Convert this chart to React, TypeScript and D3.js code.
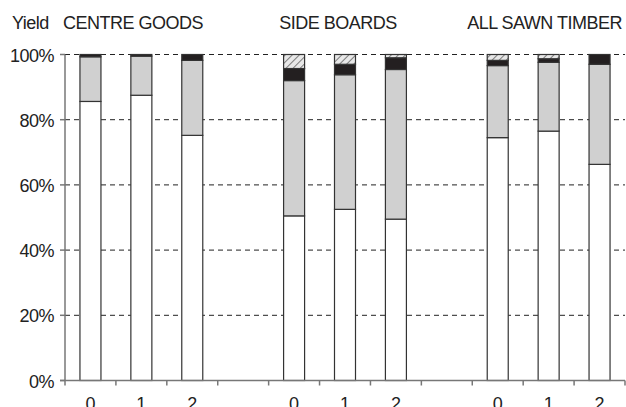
import * as d3 from "d3";

const groups = ["CENTRE GOODS", "SIDE BOARDS", "ALL SAWN TIMBER"];
const cats = ["0", "1", "2"];
// stacked segments per bar: white, grey, black, hatched
const white = [85.6, 87.5, 75.2, 50.5, 52.5, 49.5, 74.5, 76.5, 66.3];
const grey = [13.7, 12.0, 23.0, 41.5, 41.3, 45.9, 22.1, 21.1, 30.7];
const black = [0.7, 0.5, 1.8, 3.7, 3.2, 3.6, 1.6, 1.1, 3.0];
const hatched = [0, 0, 0, 4.3, 3.0, 1.0, 1.8, 1.3, 0];
const yTicks = [0, 20, 40, 60, 80, 100];

const W = 626, H = 407;
const x0 = 65, x1 = 625;
const slots = d3.range(11);
const barSlots = [0, 1, 2, 4, 5, 6, 8, 9, 10];

export default function App() {
  const x = d3.scaleBand<number>().domain(slots).range([x0, x1]);
  const y = d3.scaleLinear().domain([0, 100]).range([380.5, 54.5]);
  const bw = 21;
  const font = "Liberation Sans, Arial, sans-serif";
  const layers = [
    { v: white, fill: "#fff" },
    { v: grey, fill: "#d0d0d0" },
    { v: black, fill: "#231f20" },
    { v: hatched, fill: "url(#hatch)" },
  ];
  const titleX = [63, 338, 622];
  const titleAnchor = ["start", "middle", "end"];
  return (
    <svg width={W} height={H} style={{ position: "absolute", left: 0, top: 0 }} fontFamily={font}>
      <defs>
        <pattern id="hatch" width="5" height="5" patternUnits="userSpaceOnUse" patternTransform="rotate(45)">
          <rect width="5" height="5" fill="#e8e8e8" />
          <line x1="0" y1="0" x2="0" y2="5" stroke="#333" strokeWidth="1.2" />
        </pattern>
      </defs>
      <rect width={W} height={H} fill="#fff" />
      {yTicks.filter((t) => t > 0).map((t) => (
        <line key={t} x1={x0} x2={x1} y1={y(t)} y2={y(t)} stroke="#222" strokeDasharray="5,4" strokeWidth={1} />
      ))}
      {barSlots.map((s, i) => {
        let acc = 0;
        const cx = x(s)! + x.bandwidth() / 2;
        return (
          <g key={i}>
            {layers.map((l, j) => {
              const v = l.v[i];
              const r = v > 0 ? (
                <rect key={j} x={cx - bw / 2} width={bw} y={y(acc + v)} height={y(acc) - y(acc + v)}
                  fill={l.fill} stroke="#333" strokeWidth={1.2} />
              ) : null;
              acc += v;
              return r;
            })}
            <text x={cx} y={410} fontSize={18} textAnchor="middle" fill="#222">{cats[i % 3]}</text>
          </g>
        );
      })}
      <line x1={x0} x2={x0} y1={y(100)} y2={y(0)} stroke="#777" strokeWidth={1.5} />
      <line x1={x0 - 5} x2={x1} y1={y(0)} y2={y(0)} stroke="#777" strokeWidth={1.5} />
      {slots.concat([11]).map((s) => {
        const xx = x0 + s * x.bandwidth();
        return <line key={s} x1={xx} x2={xx} y1={y(0)} y2={y(0) + 5} stroke="#777" strokeWidth={1.5} />;
      })}
      {yTicks.map((t) => (
        <g key={t}>
          <line x1={x0 - 5} x2={x0} y1={y(t)} y2={y(t)} stroke="#777" strokeWidth={1.5} />
          <text x={x0 - 11} y={y(t) + 7} fontSize={18} textAnchor="end" fill="#222" letterSpacing={-0.5}>{t}%</text>
        </g>
      ))}
      <text x={12} y={29} fontSize={18} fill="#222" letterSpacing={-0.5}>Yield</text>
      {groups.map((g, i) => (
        <text key={g} x={titleX[i]} y={29} fontSize={18} textAnchor={titleAnchor[i] as any} fill="#222" letterSpacing={-0.5}>{g}</text>
      ))}
    </svg>
  );
}
